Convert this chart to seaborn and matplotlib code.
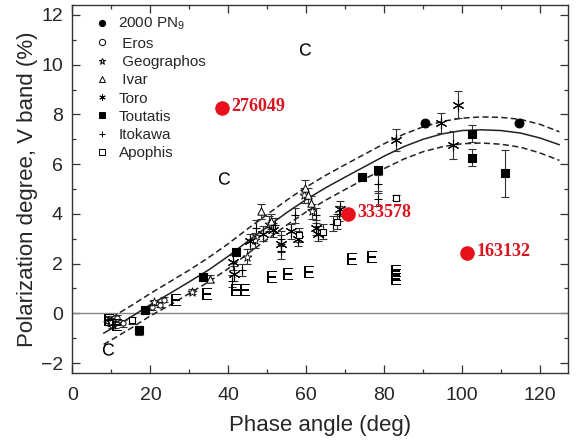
import matplotlib
matplotlib.use("Agg")
import matplotlib.pyplot as plt
from matplotlib.lines import Line2D
from matplotlib.ticker import MultipleLocator
import pandas as pd
import seaborn as sns

# ---- fitted phase curve (solid) with its confidence band (dashed) ----
fit_phase = [8, 10, 15, 20, 25, 30, 35, 40, 45, 50, 55, 60, 65, 70, 75, 80,
             85, 90, 95, 100, 105, 110, 115, 120, 125]
fit_mid = [-0.8, -0.62, -0.15, 0.35, 0.8, 1.27, 1.75, 2.3, 2.9, 3.48, 4.05, 4.58,
           5.05, 5.48, 5.9, 6.32, 6.7, 7.0, 7.22, 7.35, 7.38, 7.35, 7.25, 7.05, 6.78]
fit_upper = [-0.35, -0.17, 0.3, 0.8, 1.27, 1.74, 2.25, 2.8, 3.4, 3.98, 4.55, 5.08,
             5.55, 5.98, 6.4, 6.82, 7.2, 7.5, 7.72, 7.85, 7.9, 7.88, 7.8, 7.6, 7.3]
fit_lower = [-1.25, -1.07, -0.6, -0.1, 0.33, 0.8, 1.27, 1.8, 2.4, 2.98, 3.55, 4.08,
             4.55, 4.98, 5.4, 5.82, 6.2, 6.5, 6.7, 6.82, 6.85, 6.8, 6.68, 6.45, 6.15]

# ---- asteroid measurements: phase (deg), polarization (%), error ----
pn9_x = [90.4, 114.7]
pn9_y = [7.65, 7.67]
pn9_e = [0.0, 0.0]

eros_x = [9.0, 10.2, 11.5, 13.0, 20.5, 22.5, 23.5]
eros_y = [-0.3, -0.45, -0.2, -0.4, 0.25, 0.35, 0.55]
eros_e = [0.15, 0.15, 0.15, 0.15, 0.1, 0.1, 0.1]

geog_x = [10.0, 21.0, 30.8, 44.7, 46.8, 50.5, 59.5, 61.5]
geog_y = [-0.35, 0.45, 0.86, 2.27, 2.94, 3.6, 4.75, 4.1]
geog_e = [0.15, 0.1, 0.1, 0.3, 0.3, 0.3, 0.3, 0.3]

ivar_x = [35.3, 48.5, 51.0, 59.8, 60.5, 61.2]
ivar_y = [1.4, 4.1, 3.7, 5.05, 4.75, 4.45]
ivar_e = [0.15, 0.3, 0.3, 0.3, 0.3, 0.25]

toro_x = [41.2, 41.5, 45.5, 49.0, 51.5, 53.5, 56.0, 58.0, 62.5, 63.0, 68.6,
          83.1, 94.7, 97.8, 98.9]
toro_y = [2.05, 1.6, 2.9, 3.2, 3.35, 2.8, 3.3, 3.0, 3.45, 3.2, 4.2,
          6.98, 7.65, 6.77, 8.39]
toro_e = [0.3, 0.3, 0.3, 0.3, 0.3, 0.35, 0.3, 0.3, 0.3, 0.3, 0.3,
          0.45, 0.4, 0.55, 0.55]

tout_x = [17.2, 18.6, 33.5, 42.1, 74.2, 78.4, 102.6, 102.6, 110.9]
tout_y = [-0.69, 0.12, 1.46, 2.47, 5.5, 5.77, 7.22, 6.26, 5.63]
tout_e = [0.2, 0.1, 0.1, 0.1, 0.0, 0.1, 0.35, 0.35, 0.95]

itok_x = [9.0, 11.0, 41.0, 43.5, 47.0, 52.0, 53.5, 53.5, 57.0, 62.6, 67.0, 68.5,
          78.4, 78.4]
itok_y = [-0.25, -0.45, 1.3, 1.75, 3.45, 3.55, 3.0, 2.5, 3.95, 3.95, 3.6, 4.0,
          5.2, 4.6]
itok_e = [0.15, 0.15, 0.25, 0.25, 0.3, 0.3, 0.3, 0.3, 0.3, 0.3, 0.3, 0.3,
          0.35, 0.3]

apo_x = [15.2, 58.2, 64.2, 67.8, 83.1]
apo_y = [-0.28, 3.15, 3.28, 3.68, 4.65]
apo_e = [0.15, 0.3, 0.3, 0.3, 0.1]

# E-type and C-type values plotted as letters
e_type_x = [9.5, 11.5, 26.5, 34.6, 41.9, 44.2, 51.3, 55.3, 60.7, 71.8, 77.0,
            83.1, 83.1, 83.1]
e_type_y = [-0.25, -0.45, 0.52, 0.76, 0.95, 0.95, 1.46, 1.57, 1.67, 2.2, 2.27,
            1.4, 1.55, 1.7]
c_type_x = [9.0, 38.8, 59.6]
c_type_y = [-1.45, 5.43, 10.63]

# highlighted objects
red_names = ["276049", "333578", "163132"]
red_x = [38.3, 70.6, 101.2]
red_y = [8.25, 4.0, 2.43]

x_ticks = [0, 20, 40, 60, 80, 100, 120]
y_ticks = [-2, 0, 2, 4, 6, 8, 10, 12]

sns.set_style("ticks")
plt.rcParams["font.family"] = ["Liberation Sans", "DejaVu Sans"]
plt.rcParams["mathtext.fontset"] = "custom"
plt.rcParams["mathtext.rm"] = "Liberation Sans"
plt.rcParams["mathtext.sf"] = "Liberation Sans"
plt.rcParams["mathtext.it"] = "Liberation Sans:italic"

fig = plt.figure(figsize=(5.78, 4.41), dpi=100)
ax = fig.add_axes([0.1254, 0.1542, 0.8573, 0.8345])

ax.axhline(0, color="#888888", lw=1.0, zorder=1)

fit = pd.DataFrame({"phase": fit_phase, "mid": fit_mid,
                    "upper": fit_upper, "lower": fit_lower})
sns.lineplot(data=fit, x="phase", y="mid", ax=ax, color="#222222", lw=1.1,
             zorder=2)
for col in ["upper", "lower"]:
    sns.lineplot(data=fit, x="phase", y=col, ax=ax, color="#222222", lw=1.1,
                 dashes=False, zorder=2).lines[-1].set_dashes([4, 2.2])

series = [
    ("2000 PN$_9$", pn9_x, pn9_y, pn9_e, "o", "black", 40, 0.8),
    (" Eros", eros_x, eros_y, eros_e, "o", "white", 14, 0.7),
    (" Geographos", geog_x, geog_y, geog_e, "*", "white", 45, 0.6),
    (" Ivar", ivar_x, ivar_y, ivar_e, "^", "white", 28, 0.7),
    ("Toro", toro_x, toro_y, toro_e, (6, 2, 0), "black", 60, 0.8),
    ("Toutatis", tout_x, tout_y, tout_e, "s", "black", 30, 0.8),
    ("Itokawa", itok_x, itok_y, itok_e, "+", "black", 40, 0.8),
    ("Apophis", apo_x, apo_y, apo_e, "s", "white", 24, 0.8),
]

handles = []
for label, xs, ys, es, mk, face, size, lw in series:
    ax.errorbar(xs, ys, yerr=es, fmt="none", ecolor="#333333", elinewidth=0.8,
                capsize=3, capthick=0.8, zorder=3)
    df = pd.DataFrame({"x": xs, "y": ys})
    sns.scatterplot(data=df, x="x", y="y", ax=ax, marker=mk, s=size,
                    color=face, edgecolor="black", linewidth=lw, zorder=4)
    handles.append(Line2D([], [], ls="none", marker=mk, markersize=4.5,
                          markerfacecolor=face, markeredgecolor="black",
                          markeredgewidth=0.7, label=label))

sns.scatterplot(x=e_type_x, y=e_type_y, ax=ax, marker=r"$\mathsf{E}$", s=80,
                color="black", linewidth=0, zorder=4)
sns.scatterplot(x=c_type_x, y=c_type_y, ax=ax, marker=r"$\mathsf{C}$", s=80,
                color="black", linewidth=0, zorder=4)

sns.scatterplot(x=red_x, y=red_y, ax=ax, color="#e8101a", s=110, linewidth=0,
                zorder=5)
for name, xv, yv in zip(red_names, red_x, red_y):
    ax.annotate(name, (xv, yv), xytext=(7, 1), textcoords="offset points",
                color="#d8141e", fontsize=13, fontweight="bold",
                family=["Liberation Serif", "DejaVu Serif"], va="center",
                ha="left")

ax.set_xlim(0, 127.2)
ax.set_ylim(-2.4, 12.4)
ax.set_xticks(x_ticks)
ax.set_yticks(y_ticks)
ax.xaxis.set_minor_locator(MultipleLocator(10))
ax.yaxis.set_minor_locator(MultipleLocator(1))
ax.tick_params(which="both", direction="in", top=True, right=True,
               labelsize=14, width=0.9, color="#333333")
ax.tick_params(which="major", length=6)
ax.tick_params(which="minor", length=3)
ax.tick_params(axis="x", which="major", pad=10)
ax.tick_params(axis="y", which="major", pad=7)
for sp in ax.spines.values():
    sp.set_linewidth(1.0)
    sp.set_color("#333333")

ax.set_xlabel("Phase angle (deg)", fontsize=16, labelpad=8)
ax.set_ylabel("Polarization degree, V band (%)", fontsize=16, labelpad=2)

ax.legend(handles=handles, loc="upper left", bbox_to_anchor=(0.025, 0.995),
          frameon=False, fontsize=11, handlelength=1.0, handletextpad=0.6,
          labelspacing=0.28, borderaxespad=0.3, borderpad=0.3)

fig.savefig("out.png", dpi=100)
